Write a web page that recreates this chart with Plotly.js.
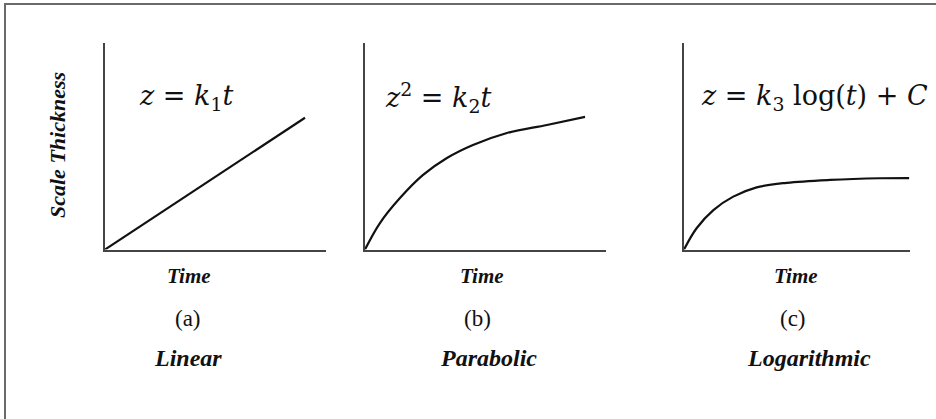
<!DOCTYPE html>
<html>
<head>
<meta charset="utf-8">
<script src="https://cdn.plot.ly/plotly-3.0.1.min.js"></script>
<style>
  html, body { margin: 0; padding: 0; background: #fff; }
  #chart { width: 936px; height: 419px; }
</style>
</head>
<body>
<div id="chart"></div>
<script>
// Growth-law sketches: scale thickness against time for three oxidation laws.
const timeLinear = [0, 9.05];
const thickLinear = [0, 6.38];

const timeParabolic = [0, 0.62, 1.45, 2.41, 3.40, 4.48, 5.89, 7.55, 9.13];
const thickParabolic = [0, 1.28, 2.49, 3.61, 4.43, 5.06, 5.64, 6.03, 6.42];

const timeLog = [0, 0.57, 1.33, 2.23, 3.29, 4.65, 6.61, 8.87, 10.19];
const thickLog = [0, 1.03, 1.91, 2.56, 3.01, 3.23, 3.37, 3.45, 3.46];

const panelLetters = ['(a)', '(b)', '(c)'];
const panelNames = ['Linear', 'Parabolic', 'Logarithmic'];
const xTitle = 'Time';
const yTitle = 'Scale Thickness';
const equations = [
  '<i>z</i> = <i>k</i><sub>1</sub><i>t</i>',
  '<i>z</i><sup>2</sup> = <i>k</i><sub>2</sub><i>t</i>',
  '<i>z</i> = <i>k</i><sub>3</sub> log(<i>t</i>) + <i>C</i>'
];

const W = 936, H = 419;
const px = v => v / W;
const py = v => 1 - v / H;

const serif = '"Liberation Serif", "Times New Roman", serif';
const mathFont = '"DejaVu Serif", "Liberation Serif", serif';

const curveLine = { color: '#111', width: 2.2, shape: 'spline', smoothing: 1 };

const traces = [
  { x: timeLinear, y: thickLinear, xaxis: 'x', yaxis: 'y', mode: 'lines', line: curveLine, hoverinfo: 'skip' },
  { x: timeParabolic, y: thickParabolic, xaxis: 'x2', yaxis: 'y2', mode: 'lines', line: curveLine, hoverinfo: 'skip' },
  { x: timeLog, y: thickLog, xaxis: 'x3', yaxis: 'y3', mode: 'lines', line: curveLine, hoverinfo: 'skip' }
];

const yDomain = [py(249.5), py(43)];
const axisBase = {
  showline: true, linecolor: '#444', linewidth: 2,
  showgrid: false, zeroline: false, showticklabels: false, ticks: '',
  fixedrange: true
};
function xAx(domain, range, anchor) {
  return Object.assign({}, axisBase, { domain: domain, range: range, anchor: anchor });
}
function yAx(anchor) {
  return Object.assign({}, axisBase, { domain: yDomain, range: [0, 10], anchor: anchor });
}

// caption centres for each panel
const timeX = [189, 482, 796];
const letterX = [188, 478, 793];
const nameX = [188, 488, 809];
const eqX = [137, 383, 699];

const annotations = [];
for (let i = 0; i < 3; i++) {
  annotations.push({
    xref: 'paper', yref: 'paper', x: px(timeX[i]), y: py(276),
    xanchor: 'center', yanchor: 'middle', showarrow: false,
    text: '<b><i>' + xTitle + '</i></b>',
    font: { family: serif, size: 21, color: '#111' }
  });
  annotations.push({
    xref: 'paper', yref: 'paper', x: px(letterX[i]), y: py(318),
    xanchor: 'center', yanchor: 'middle', showarrow: false,
    text: panelLetters[i],
    font: { family: serif, size: 23, color: '#111' }
  });
  annotations.push({
    xref: 'paper', yref: 'paper', x: px(nameX[i]), y: py(358),
    xanchor: 'center', yanchor: 'middle', showarrow: false,
    text: '<b><i>' + panelNames[i] + '</i></b>',
    font: { family: serif, size: 24, color: '#111' }
  });
  annotations.push({
    xref: 'paper', yref: 'paper', x: px(eqX[i]), y: py(97),
    xanchor: 'left', yanchor: 'middle', showarrow: false,
    text: equations[i],
    font: { family: mathFont, size: 27, color: '#111' }
  });
}
annotations.push({
  xref: 'paper', yref: 'paper', x: px(57), y: py(145),
  xanchor: 'center', yanchor: 'middle', showarrow: false, textangle: -90,
  text: '<b><i>' + yTitle + '</i></b>',
  font: { family: serif, size: 22, color: '#111' }
});

const layout = {
  width: W, height: H,
  margin: { l: 0, r: 0, t: 0, b: 0 },
  paper_bgcolor: '#fff', plot_bgcolor: 'rgba(0,0,0,0)',
  showlegend: false,
  xaxis: xAx([px(105), px(326)], [0, 10], 'y'),
  yaxis: yAx('x'),
  xaxis2: xAx([px(365), px(606)], [0, 10], 'y2'),
  yaxis2: yAx('x2'),
  xaxis3: xAx([px(684), px(910)], [0, 10.23], 'y3'),
  yaxis3: yAx('x3'),
  annotations: annotations,
  shapes: [{
    type: 'path', xref: 'paper', yref: 'paper',
    path: 'M ' + px(5) + ',' + py(425) + ' L ' + px(5) + ',' + py(4) + ' L ' + px(940) + ',' + py(4),
    line: { color: '#6a6a6a', width: 2 }
  }]
};

Plotly.newPlot('chart', traces, layout, { displayModeBar: false, staticPlot: true });
</script>
</body>
</html>
